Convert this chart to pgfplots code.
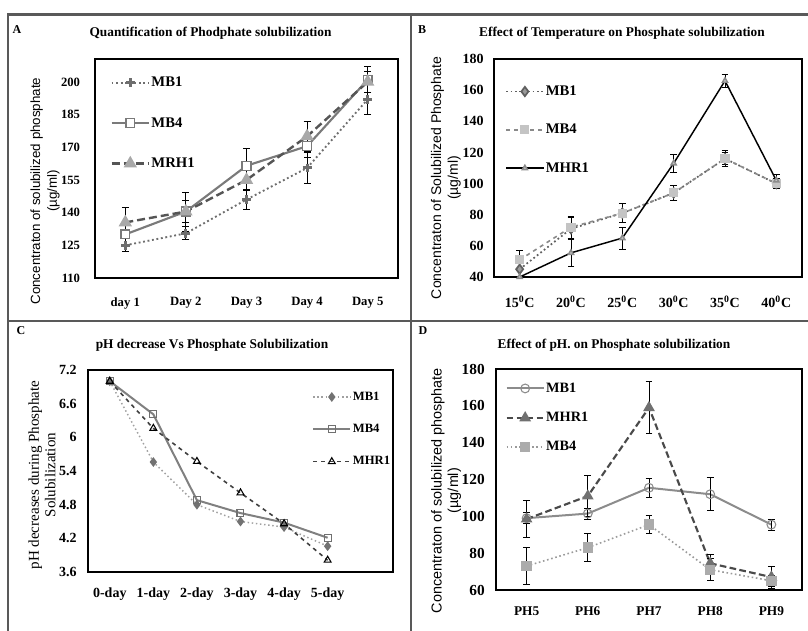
\documentclass[border=0pt]{standalone}
\usepackage{pgfplots}
\pgfplotsset{compat=1.18}
\usepackage{fontspec}
\setmainfont{Liberation Serif}
\setsansfont{Liberation Sans}

\definecolor{gA1}{HTML}{6E6E6E}
\definecolor{gA2}{HTML}{7A7A7A}
\definecolor{gA3}{HTML}{555555}
\definecolor{gA3m}{HTML}{A8A8A8}
\definecolor{gB1}{HTML}{606060}
\definecolor{gB1m}{HTML}{9A9A9A}
\definecolor{gB2}{HTML}{8A8A8A}
\definecolor{gB2m}{HTML}{C4C4C4}
\definecolor{gC1}{HTML}{A0A0A0}
\definecolor{gC1m}{HTML}{727272}
\definecolor{gC2}{HTML}{808080}
\definecolor{gC2m}{HTML}{707070}
\definecolor{gC3}{HTML}{404040}
\definecolor{gD1}{HTML}{8C8C8C}
\definecolor{gD2}{HTML}{4A4A4A}
\definecolor{gD2m}{HTML}{707070}
\definecolor{gD3}{HTML}{9A9A9A}
\definecolor{gD3m}{HTML}{ABABAB}

\pgfplotsset{
  legend image code/.code={\draw[mark repeat=2,mark phase=2,#1] plot coordinates {(0pt,0pt) (14pt,0pt) (28pt,0pt)};},
  panel/.style={scale only axis, anchor=north west,
    axis line style={line width=1.6pt, black},
    major tick length=0pt, clip=false,
    /pgf/number format/assume math mode=true,
    ticklabel style={font=\bfseries\fontsize{9.5}{11}\selectfont},
    xticklabel style={anchor=center},
    yticklabel style={anchor=east, inner sep=0pt},
    ylabel style={anchor=center, align=center, font=\sffamily\fontsize{10}{12.5}\selectfont},
    legend cell align=left,
    legend style={draw=none, fill=none, inner sep=0pt, anchor=north west,
      nodes={inner sep=1pt}},
  },
  ebar/.style={error bars/y dir=both, error bars/y explicit,
    error bars/error bar style={solid,black,line width=0.6pt},
    error bars/error mark options={rotate=90,black,solid,mark size=2.6pt,line width=0.6pt}},
}

\begin{document}
\begin{tikzpicture}
\path[use as bounding box] (0,0) rectangle (606pt,-473.25pt);
\draw[line width=1.6pt, black!65] (6pt,-473.25pt) -- (6pt,-10.9pt) -- (606pt,-10.9pt);
\draw[line width=1.6pt, black!65] (308.25pt,-10.9pt) -- (308.25pt,-473.25pt);
\draw[line width=1.6pt, black!65] (6pt,-240.75pt) -- (606pt,-240.75pt);

\node[font=\bfseries\fontsize{9}{10}\selectfont] at (12.75pt,-22.5pt) {A};
\node[font=\bfseries\fontsize{9}{10}\selectfont] at (316.5pt,-22.5pt) {B};
\node[font=\bfseries\fontsize{9}{10}\selectfont] at (15.75pt,-248.25pt) {C};
\node[font=\bfseries\fontsize{9}{10}\selectfont] at (317.25pt,-248.25pt) {D};

\node[font=\bfseries\fontsize{10}{12}\selectfont] at (157.9pt,-24.75pt) {Quantification of Phodphate solubilization};
\node[font=\bfseries\fontsize{10}{12}\selectfont] at (466.5pt,-24.75pt) {Effect of Temperature on Phosphate solubilization};
\node[font=\bfseries\fontsize{10}{12}\selectfont] at (159pt,-258.75pt) {pH decrease Vs Phosphate Solubilization};
\node[font=\bfseries\fontsize{10}{12}\selectfont] at (460.5pt,-258.75pt) {Effect of pH. on Phosphate solubilization};

% ---------------- Panel A ----------------
\begin{axis}[panel, at={(71.25pt,-44.25pt)}, width=227.25pt, height=164.25pt,
  xmin=-0.5, xmax=4.5, ymin=110, ymax=210.5,
  xtick={0,1,2,3,4}, xticklabels={day 1,Day 2,Day 3,Day 4,Day 5},
  ytick={110,125,140,155,170,185,200},
  xticklabel style={yshift=-18.75pt}, yticklabel style={xshift=-11pt},
  ylabel={Concentraton of solubilized phosphate\\(µg/ml)},
  ylabel style={at={(axis description cs:-0.165,0.397)}},
  legend style={at={(axis description cs:0.05,0.925)}, row sep=19.5pt,
    font=\bfseries\fontsize{11}{12}\selectfont}]
\addplot[gA1, dotted, line width=1.4pt, mark=+, mark size=3.3pt,
  mark options={solid, line width=2.2pt}, ebar] table[x=x,y=y,y error=e]{
x y e
0 125 3
1 130.5 3
2 146 4.5
3 160.5 7
4 192 7
};
\addlegendentry{MB1}
\addplot[gA2, line width=1.6pt, mark=square*, mark size=3.3pt,
  mark options={solid, fill=white, draw=gA2, line width=1pt}, ebar] table[x=x,y=y,y error=e]{
x y e
0 130 2
1 140.5 5
2 161.5 8
3 170.5 5
4 201 6
};
\addlegendentry{MB4}
\addplot[gA3, dashed, dash pattern=on 6pt off 3pt, line width=1.8pt, mark=triangle*, mark size=4pt,
  mark options={solid, fill=gA3m, draw=gA3m}, ebar] table[x=x,y=y,y error=e]{
x y e
0 135.5 7
1 140.5 9
2 155 5
3 175 7
4 200 5
};
\addlegendentry{MRH1}
\end{axis}

% ---------------- Panel B ----------------
\begin{axis}[panel, at={(370.5pt,-44.25pt)}, width=231pt, height=163.5pt,
  xmin=-0.5, xmax=5.5, ymin=40, ymax=180,
  xtick={0,1,2,3,4,5},
  xticklabels={15\textsuperscript{0}C,20\textsuperscript{0}C,25\textsuperscript{0}C,30\textsuperscript{0}C,35\textsuperscript{0}C,40\textsuperscript{0}C},
  ytick={40,60,...,180},
  ticklabel style={font=\bfseries\fontsize{10.5}{12}\selectfont},
  xticklabel style={yshift=-18.75pt}, yticklabel style={xshift=-7.5pt},
  ylabel={Concentraton of Solubilized Phosphate\\(µg/ml)},
  ylabel style={at={(axis description cs:-0.156,0.454)}, font=\sffamily\fontsize{10.5}{12.5}\selectfont},
  legend style={at={(axis description cs:0.036,0.885)}, row sep=18pt,
    font=\bfseries\fontsize{11}{12}\selectfont}]
\addplot[gB1, dotted, line width=1.3pt, mark=diamond*, mark size=3.5pt,
  mark options={solid, fill=gB1m, draw=gB1}, ebar] table[x=x,y=y,y error=e]{
x y e
0 45 5
1 71 7
2 81 6
3 94 5
4 116 4
5 100 3
};
\addlegendentry{MB1}
\addplot[gB2, dashed, line width=1.2pt, mark=square*, mark size=2.8pt,
  mark options={solid, fill=gB2m, draw=gB2m}, ebar] table[x=x,y=y,y error=e]{
x y e
0 51 6
1 72 7
2 81 6
3 94 5
4 116 5
5 100 3
};
\addlegendentry{MB4}
\addplot[black, line width=1.1pt, mark=triangle*, mark size=2.2pt,
  mark options={solid, fill=gB2m, draw=gB2}, ebar] table[x=x,y=y,y error=e]{
x y e
0 40 0
1 55.5 9
2 65 7
3 113 6
4 166 4
5 102 4
};
\addlegendentry{MHR1}
\end{axis}

% ---------------- Panel C ----------------
\begin{axis}[panel, at={(66pt,-277.5pt)}, width=228.75pt, height=151.5pt,
  xmin=-0.5, xmax=6.5, ymin=3.6, ymax=7.2,
  xtick={0,1,2,3,4,5}, xticklabels={0-day,1-day,2-day,3-day,4-day,5-day},
  ytick={3.6,4.2,4.8,5.4,6,6.6,7.2},
  ticklabel style={font=\bfseries\fontsize{10.5}{12}\selectfont},
  xticklabel style={yshift=-16.5pt}, yticklabel style={xshift=-8.25pt},
  ylabel={pH decreases during Phosphate\\Solubilization},
  ylabel style={at={(axis description cs:-0.151,0.48)}, font=\rmfamily\fontsize{11.3}{12.5}\selectfont},
  legend style={at={(axis description cs:0.734,0.90)}, row sep=14.5pt,
    font=\bfseries\fontsize{9.5}{11}\selectfont}]
\addplot[gC1, dotted, line width=1.1pt, mark=diamond*, mark size=2.8pt,
  mark options={solid, fill=gC1m, draw=gC1m}] table[x=x,y=y]{
x y
0 7.0
1 5.56
2 4.8
3 4.5
4 4.4
5 4.06
};
\addlegendentry{MB1}
\addplot[gC2, line width=1.5pt, mark=square, mark size=2.6pt,
  mark options={solid, fill=white, draw=gC2m, line width=0.8pt}] table[x=x,y=y]{
x y
0 7.0
1 6.41
2 4.88
3 4.65
4 4.48
5 4.21
};
\addlegendentry{MB4}
\addplot[gC3, dashed, line width=1.2pt, mark=triangle, mark size=3pt,
  mark options={solid, fill=white, draw=black, line width=0.8pt}] table[x=x,y=y]{
x y
0 7.0
1 6.16
2 5.57
3 5.01
4 4.46
5 3.81
};
\addlegendentry{MHR1}
\end{axis}

% ---------------- Panel D ----------------
\begin{axis}[panel, at={(372pt,-276.75pt)}, width=229.5pt, height=165.75pt,
  xmin=-0.5, xmax=4.5, ymin=60, ymax=180,
  xtick={0,1,2,3,4}, xticklabels={PH5,PH6,PH7,PH8,PH9},
  ytick={60,80,...,180},
  yticklabel style={font=\bfseries\fontsize{11.5}{12}\selectfont, xshift=-8.25pt},
  xticklabel style={font=\bfseries\fontsize{10}{12}\selectfont, yshift=-15.75pt},
  ylabel={Concentraton of solubilized phosphate\\(µg/ml)},
  ylabel style={at={(axis description cs:-0.163,0.45)}, font=\sffamily\fontsize{10.8}{12.5}\selectfont},
  legend style={at={(axis description cs:0.03,0.945)}, row sep=11.5pt,
    font=\bfseries\fontsize{10.7}{12}\selectfont}]
\addplot[gD1, line width=1.5pt, mark=o, mark size=3.3pt,
  mark options={solid, fill=white, draw=gD1, line width=0.8pt}, ebar] table[x=x,y=y,y error=e]{
x y e
0 99 3
1 101.5 3
2 115.5 5
3 112 9
4 95.5 3
};
\addlegendentry{MB1}
\addplot[gD2, dashed, dash pattern=on 5pt off 2.5pt, line width=1.6pt, mark=triangle*, mark size=3.5pt,
  mark options={solid, fill=gD2m, draw=gD2m}, ebar] table[x=x,y=y,y error=e]{
x y e
0 98.5 10
1 111 11
2 159 14
3 74.5 5
4 67 6
};
\addlegendentry{MHR1}
\addplot[gD3, dotted, line width=1.2pt, mark=square*, mark size=3.3pt,
  mark options={solid, fill=gD3m, draw=gD3m}, ebar] table[x=x,y=y,y error=e]{
x y e
0 73 10
1 83 7.5
2 95.5 5
3 71 6
4 65 3
};
\addlegendentry{MB4}
\end{axis}
\end{tikzpicture}
\end{document}
